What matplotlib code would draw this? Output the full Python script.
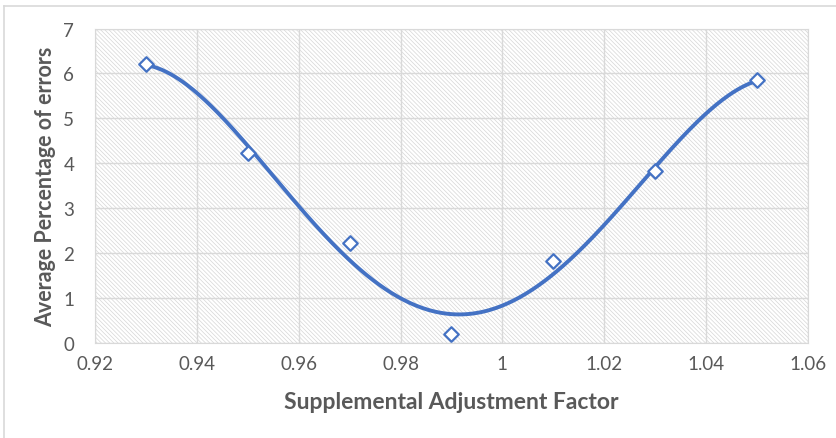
import numpy as np
import matplotlib
matplotlib.use('Agg')
import matplotlib.pyplot as plt
from matplotlib.patches import Rectangle
from matplotlib.lines import Line2D

# data
factor = [0.93, 0.95, 0.97, 0.99, 1.01, 1.03, 1.05]
avg_error = [6.22, 4.22, 2.22, 0.2, 1.82, 3.82, 5.85]

x_ticks = [0.92, 0.94, 0.96, 0.98, 1.0, 1.02, 1.04, 1.06]
x_tick_labels = ['0.92', '0.94', '0.96', '0.98', '1', '1.02', '1.04', '1.06']
y_ticks = [0, 1, 2, 3, 4, 5, 6, 7]

plt.rcParams['font.family'] = ['Lato', 'DejaVu Sans']
plt.rcParams['hatch.linewidth'] = 0.5

blue = '#4472C4'
grey_text = '#595959'

fig = plt.figure(figsize=(8.37, 4.39), dpi=100)
ax = fig.add_axes([95 / 837, 1 - 344 / 439, (808 - 95) / 837, (344 - 29.5) / 439])

# hatched plot area like the excel pattern fill
ax.add_patch(Rectangle((0, 0), 1, 1, transform=ax.transAxes, facecolor='white',
                       edgecolor='#d6d6d6', linewidth=0, hatch='\\' * 8, zorder=0))

# polynomial trendline
coef = np.polyfit(factor, avg_error, 4)
xs = np.linspace(0.93, 1.05, 300)
ax.plot(xs, np.polyval(coef, xs), color=blue, lw=2.8, zorder=3)

ax.scatter(factor, avg_error, marker='D', s=55, facecolor='white',
           edgecolor=blue, linewidth=1.6, zorder=4)

ax.set_xlim(0.92, 1.06)
ax.set_ylim(0, 7)
ax.set_xticks(x_ticks)
ax.set_xticklabels(x_tick_labels)
ax.set_yticks(y_ticks)
ax.grid(True, color='#d9d9d9', lw=1.0, zorder=1)
for s in ax.spines.values():
    s.set_color('#d9d9d9')
ax.tick_params(length=0, labelsize=13.5, colors=grey_text, pad=9)
ax.tick_params(axis='y', pad=15)

ax.set_xlabel('Supplemental Adjustment Factor', fontsize=16.5, fontweight='bold',
              color=grey_text, labelpad=13)
ax.set_ylabel('Average Percentage of errors', fontsize=15.5, fontweight='bold',
              color=grey_text, labelpad=5)

# chart area border
fig.add_artist(Line2D([4 / 837, 1], [1 - 6.5 / 439, 1 - 6.5 / 439], color='#d9d9d9', lw=1.2))
fig.add_artist(Line2D([4 / 837, 4 / 837], [0, 1 - 6.5 / 439], color='#d9d9d9', lw=1.2))

fig.savefig('out.png', dpi=100)
